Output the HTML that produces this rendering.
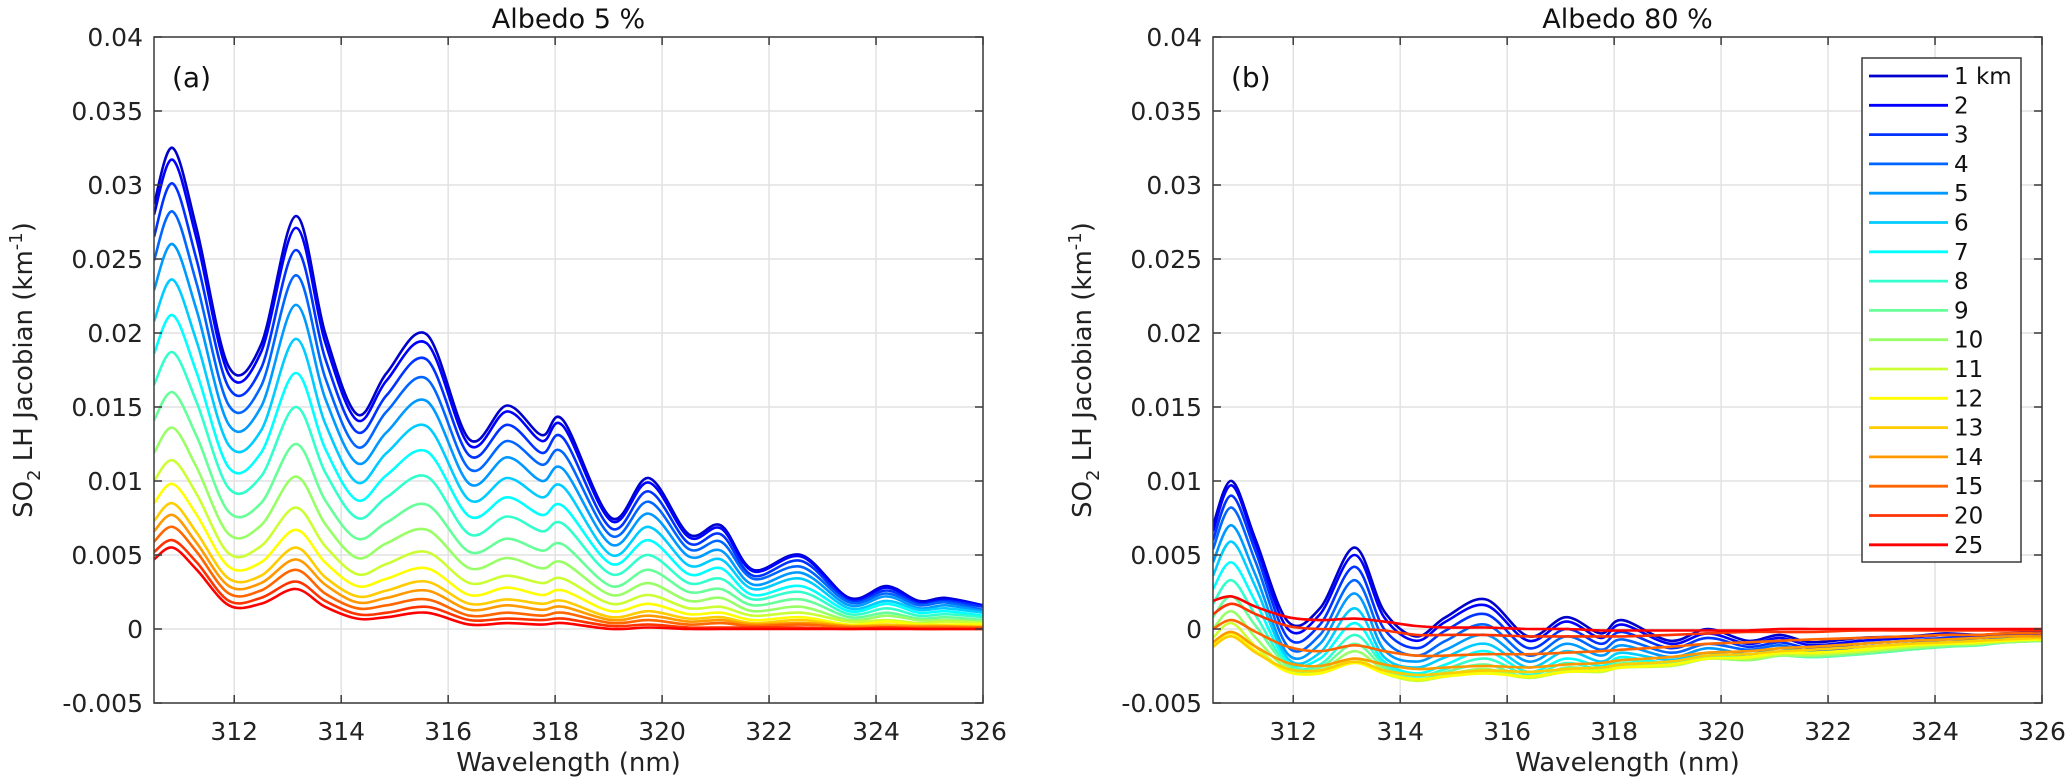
<!DOCTYPE html>
<html><head><meta charset="utf-8">
<style>
html,body{margin:0;padding:0;background:#fff;}
svg{display:block;font-family:"DejaVu Sans","Liberation Sans",sans-serif;}
</style></head>
<body>
<svg id="fig" width="2067" height="784" viewBox="0 0 2067 784" xmlns="http://www.w3.org/2000/svg"></svg>
<script>
// ---- data ----
const wavelengths = [310.5,310.85,311.3,311.9,312.5,313.15,313.7,314.3,314.85,315.6,316.4,317.1,317.75,318.15,319.05,319.75,320.5,321.1,321.7,322.6,323.5,324.2,324.8,325.3,326];
const seriesLabels = ["1 km","2","3","4","5","6","7","8","9","10","11","12","13","14","15","20","25"];
const xTicks = [312,314,316,318,320,322,324,326];
const yTicks = [-0.005,0,0.005,0.01,0.015,0.02,0.025,0.03,0.035,0.04];
const yTickLabels = ["-0.005","0","0.005","0.01","0.015","0.02","0.025","0.03","0.035","0.04"];
// Panel (a) albedo 5%, values in 1e-4 km^-1
const albedo5 = [
[287,325,270,177,192,279,200,145,173,199,128,151,131,141,75,102,64,70,40,50,21,29,19,21,16],
[280,317,263,172,187,271,194,141,168,193,124,147,127,137,73,99,62,68,39,49,20,28,18,20,16],
[265,301,249,163,176,256,183,133,158,182,117,138,119,129,68,93,58,64,36,46,19,26,17,19,15],
[249,282,233,151,164,239,170,123,147,169,108,127,111,119,63,86,54,59,34,42,18,24,16,18,13],
[229,260,215,138,150,219,156,112,133,154,98,116,100,108,57,78,49,53,30,38,16,22,14,16,12],
[208,236,194,124,134,196,139,99,119,137,87,102,89,96,50,69,43,47,27,34,14,19,13,14,11],
[186,212,173,109,119,173,122,87,104,120,76,89,77,83,44,60,37,41,23,29,12,17,11,12,9],
[165,187,153,95,103,150,106,75,89,103,64,76,66,71,37,50,31,34,20,25,10,14,9,10,8],
[141,160,130,79,85,125,87,61,72,84,52,61,53,57,29,40,25,27,16,20,8,11,7,8,6],
[119,136,109,64,70,103,71,48,58,67,41,48,41,45,23,31,19,21,12,15,6,9,6,6,5],
[100,114,91,51,56,82,56,37,44,52,31,36,31,34,17,23,14,15,9,11,5,6,4,5,4],
[85,98,77,42,45,67,45,29,34,41,23,28,23,26,12,17,10,11,6,8,3,5,3,3,3],
[73,85,65,34,36,55,35,22,26,32,17,20,17,19,8,12,7,8,4,6,2,3,2,2,2],
[66,77,58,29,31,47,30,18,21,26,13,16,13,15,6,9,5,6,3,4,2,2,2,2,1],
[59,69,52,24,26,40,24,14,16,20,9,11,9,11,4,6,3,4,2,3,1,1,1,1,1],
[52,60,45,19,21,32,19,10,11,15,6,7,6,7,2,3,1,1,1,1,0,1,0,0,0],
[47,55,40,16,17,27,15,7,8,11,3,4,3,4,0,1,0,0,0,0,0,0,0,0,0]
];
// Panel (b) albedo 80%, values in 1e-4 km^-1
const albedo80 = [
[70,100,60,5,14,55,12,-5,8,20,-5,8,-3,6,-8,0,-8,-4,-9,-6,-5,-3,-4,-3,-2],
[66,97,57,0,10,50,8,-8,5,16,-8,5,-6,3,-10,-3,-10,-6,-11,-8,-6,-4,-5,-4,-3],
[60,90,52,-6,3,42,0,-13,-1,10,-13,0,-10,-2,-13,-6,-12,-9,-13,-10,-8,-6,-6,-5,-4],
[54,82,45,-12,-4,33,-7,-18,-8,3,-18,-5,-14,-7,-16,-10,-14,-11,-15,-12,-10,-7,-8,-6,-5],
[45,70,36,-17,-10,24,-14,-22,-14,-4,-22,-10,-18,-11,-19,-13,-17,-13,-16,-14,-11,-9,-9,-7,-6],
[36,59,28,-20,-16,14,-19,-26,-19,-10,-26,-15,-22,-16,-21,-16,-19,-16,-18,-16,-13,-10,-10,-8,-7],
[27,45,18,-22,-20,4,-22,-30,-24,-15,-29,-20,-25,-19,-23,-18,-20,-17,-19,-17,-14,-11,-11,-9,-8],
[17,33,9,-24,-24,-4,-24,-32,-27,-20,-31,-23,-27,-21,-24,-19,-21,-18,-19,-17,-14,-12,-11,-9,-8],
[8,22,2,-25,-26,-10,-26,-34,-29,-24,-33,-26,-28,-23,-25,-20,-21,-18,-19,-17,-14,-12,-11,-9,-8],
[0,12,-6,-27,-28,-15,-28,-35,-31,-27,-33,-28,-29,-25,-25,-20,-21,-18,-18,-16,-13,-11,-10,-9,-8],
[-6,4,-12,-29,-29,-20,-30,-35,-32,-29,-33,-29,-29,-26,-25,-20,-20,-17,-17,-15,-12,-10,-10,-8,-7],
[-10,-3,-15,-29,-30,-23,-30,-34,-32,-30,-32,-29,-28,-26,-24,-20,-19,-16,-16,-14,-11,-10,-9,-8,-7],
[-12,-5,-16,-27,-28,-22,-28,-31,-30,-28,-29,-27,-26,-24,-22,-18,-17,-15,-14,-12,-10,-9,-8,-7,-6],
[-9,-2,-12,-23,-25,-20,-24,-27,-26,-25,-26,-24,-23,-21,-19,-16,-15,-13,-12,-10,-8,-7,-6,-5,-5],
[0,6,-2,-12,-15,-11,-15,-18,-18,-17,-17,-16,-15,-14,-12,-10,-9,-8,-7,-6,-5,-4,-4,-3,-3],
[10,17,10,2,0,0,-1,-4,-4,-4,-5,-5,-5,-5,-4,-3,-2,-2,-2,-1,-1,-1,-1,-1,-1],
[19,22,15,8,6,7,5,2,1,1,0,0,-1,-1,-1,-1,-1,0,0,0,0,0,0,0,0]
];

const NS = "http://www.w3.org/2000/svg";
const svg = document.getElementById('fig');
function mk(tag, attrs, parent){
  const e = document.createElementNS(NS, tag);
  for (const k in attrs) e.setAttribute(k, attrs[k]);
  (parent||svg).appendChild(e);
  return e;
}
function jet(t){
  const c = v => Math.max(0, Math.min(1, v));
  const r = c(1.5 - Math.abs(4*t - 3)), g = c(1.5 - Math.abs(4*t - 2)), b = c(1.5 - Math.abs(4*t - 1));
  return `rgb(${Math.round(r*255)},${Math.round(g*255)},${Math.round(b*255)})`;
}
const colors = seriesLabels.map((_, i) => jet(0.075 + i*0.05));

const X0 = 310.5, X1 = 326, Y0 = -0.005, Y1 = 0.04;
const TOP = 37, BOT = 703;
function smoothPath(pts){
  let d = `M${pts[0][0].toFixed(1)},${pts[0][1].toFixed(1)}`;
  for (let i = 0; i < pts.length - 1; i++){
    const p0 = pts[Math.max(0,i-1)], p1 = pts[i], p2 = pts[i+1], p3 = pts[Math.min(pts.length-1,i+2)];
    const c1x = p1[0] + (p2[0]-p0[0])/6, c1y = p1[1] + (p2[1]-p0[1])/6;
    const c2x = p2[0] - (p3[0]-p1[0])/6, c2y = p2[1] - (p3[1]-p1[1])/6;
    d += ` C${c1x.toFixed(1)},${c1y.toFixed(1)} ${c2x.toFixed(1)},${c2y.toFixed(1)} ${p2[0].toFixed(1)},${p2[1].toFixed(1)}`;
  }
  return d;
}

function panel(L, R, data, title, tag, id, withLegend){
  const xs = v => L + (v - X0)/(X1 - X0)*(R - L);
  const ys = v => BOT - (v - Y0)/(Y1 - Y0)*(BOT - TOP);
  const g = mk('g', {});
  
  
  // grid
  xTicks.forEach(t => {
    const l = mk('line', {x1:xs(t), x2:xs(t), y1:TOP, y2:BOT, stroke:'#e2e2e2', 'stroke-width':1.5}, g);
    
    
  });
  yTicks.forEach(t => {
    const l = mk('line', {x1:L, x2:R, y1:ys(t), y2:ys(t), stroke:'#e2e2e2', 'stroke-width':1.5}, g);
    
    
  });
  // series
  const clipId = id + '-clip';
  const cp = mk('clipPath', {id:clipId}, g);
  mk('rect', {x:L, y:TOP, width:R-L, height:BOT-TOP}, cp);
  const sg = mk('g', {'clip-path':`url(#${clipId})`}, g);
  data.forEach((vals, i) => {
    const pts = vals.map((v, j) => [xs(wavelengths[j]), ys(v*1e-4)]);
    const p = mk('path', {d:smoothPath(pts), fill:'none', stroke:colors[i], 'stroke-width':2.6, 'stroke-linejoin':'round'}, sg);
    
    
  });
  // box
  const box = mk('rect', {x:L, y:TOP, width:R-L, height:BOT-TOP, fill:'none', stroke:'#3a3a3a', 'stroke-width':1.5}, g);
  
  
  // ticks + labels
  xTicks.forEach(t => {
    mk('line', {x1:xs(t), x2:xs(t), y1:BOT, y2:BOT-8, stroke:'#3a3a3a', 'stroke-width':1.5}, g);
    mk('line', {x1:xs(t), x2:xs(t), y1:TOP, y2:TOP+8, stroke:'#3a3a3a', 'stroke-width':1.5}, g);
    const tx = mk('text', {x:xs(t), y:740, 'font-size':25, 'text-anchor':'middle', fill:'#222'}, g);
    tx.textContent = String(t);
    
    
  });
  yTicks.forEach((t, i) => {
    mk('line', {x1:L, x2:L+8, y1:ys(t), y2:ys(t), stroke:'#3a3a3a', 'stroke-width':1.5}, g);
    mk('line', {x1:R, x2:R-8, y1:ys(t), y2:ys(t), stroke:'#3a3a3a', 'stroke-width':1.5}, g);
    const tx = mk('text', {x:L-11, y:ys(t)+9, 'font-size':25, 'text-anchor':'end', fill:'#222'}, g);
    tx.textContent = yTickLabels[i];
    
    
  });
  // title
  const ti = mk('text', {x:(L+R)/2, y:28, 'font-size':27, 'text-anchor':'middle', fill:'#111'}, g);
  ti.textContent = title;
  
  
  // panel tag
  const pt = mk('text', {x:L+18, y:87, 'font-size':28, fill:'#111'}, g);
  pt.textContent = tag;
  
  
  // x label
  const xl = mk('text', {x:(L+R)/2, y:771, 'font-size':26, 'text-anchor':'middle', fill:'#222'}, g);
  xl.textContent = 'Wavelength (nm)';
  
  
  // y label
  const ylx = L - 122, yly = 370;
  const yl = mk('text', {x:ylx, y:yly, 'font-size':26, 'text-anchor':'middle', fill:'#222', transform:`rotate(-90 ${ylx} ${yly})`}, g);
  yl.innerHTML = 'SO<tspan font-size="18" dy="8">2</tspan><tspan dy="-8"> LH Jacobian (km</tspan><tspan font-size="18" dy="-10">-1</tspan><tspan dy="10">)</tspan>';
  
  

  if (withLegend){
    const lg = mk('g', {}, g);
    
    
    mk('rect', {x:1862, y:58, width:159, height:504, fill:'#fff', stroke:'#3a3a3a', 'stroke-width':1.5}, lg);
    seriesLabels.forEach((lab, i) => {
      const yy = 76 + i*29.3;
      const e = mk('g', {}, lg);
      
      
      mk('line', {x1:1869, x2:1948, y1:yy, y2:yy, stroke:colors[i], 'stroke-width':2.8}, e);
      const t = mk('text', {x:1954, y:yy+8, 'font-size':23, fill:'#111'}, e);
      t.textContent = lab;
    });
  }
}
panel(154, 983, albedo5, 'Albedo 5 %', '(a)', 'panel-a', false);
panel(1213, 2042, albedo80, 'Albedo 80 %', '(b)', 'panel-b', true);
</script>
</body></html>
